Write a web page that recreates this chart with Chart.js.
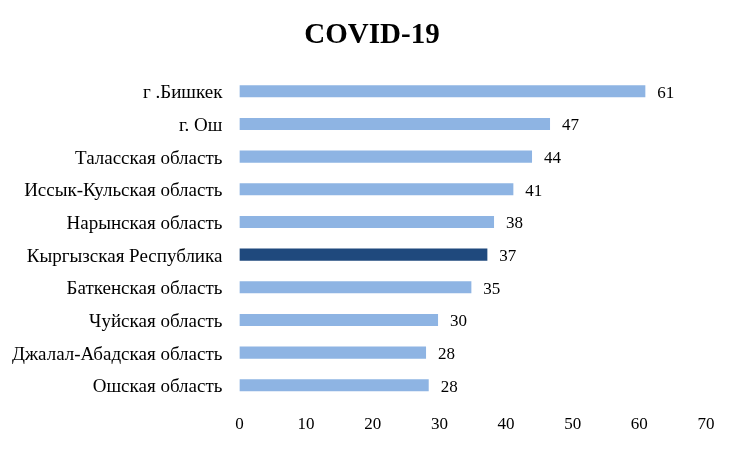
<!DOCTYPE html>
<html lang="ru">
  <head>
    <meta charset="UTF-8">
    <title>COVID-19</title>
    <script src="https://cdn.jsdelivr.net/npm/chart.js@4.4.0/dist/chart.umd.min.js"></script>
    <style>
      body { margin: 0; background: #fff; }
      #wrap { width: 740px; height: 474px; }
    </style>
  </head>
  <body>
    <div id="wrap"><canvas id="myChart"></canvas></div>
    <script>
      // regions, top to bottom
      const regions = [
        'г .Бишкек', 'г. Ош', 'Таласская область', 'Иссык-Кульская область',
        'Нарынская область', 'Кыргызская Республика', 'Баткенская область',
        'Чуйская область', 'Джалал-Абадская область', 'Ошская область'
      ];
      const values = [60.9, 46.6, 43.9, 41.1, 38.2, 37.2, 34.8, 29.8, 28.0, 28.4];
      const valueLabels = ['61', '47', '44', '41', '38', '37', '35', '30', '28', '28'];
      const xTicks = [0, 10, 20, 30, 40, 50, 60, 70];
      const chartTitle = 'COVID-19';

      const light = '#8EB4E3';
      const dark = '#1F497D';
      const barColors = regions.map(r => r === 'Кыргызская Республика' ? dark : light);
      const serif = "'Liberation Serif', 'Times New Roman', serif";

      // title centred on the whole canvas (the built-in one follows the layout padding)
      const pageTitle = {
        id: 'pageTitle',
        afterDraw(chart) {
          const ctx = chart.ctx;
          ctx.save();
          ctx.font = 'bold 29px ' + serif;
          ctx.fillStyle = '#000';
          ctx.textAlign = 'center';
          ctx.textBaseline = 'middle';
          ctx.fillText(chartTitle, chart.width / 2 + 2, 36);
          ctx.restore();
        }
      };

      // numbers at the end of each bar
      const endLabels = {
        id: 'endLabels',
        afterDatasetsDraw(chart) {
          const ctx = chart.ctx;
          const meta = chart.getDatasetMeta(0);
          ctx.save();
          ctx.font = '17px ' + serif;
          ctx.fillStyle = '#000';
          ctx.textAlign = 'left';
          ctx.textBaseline = 'middle';
          meta.data.forEach((bar, i) => {
            ctx.fillText(valueLabels[i], bar.x + 12, bar.y + 2);
          });
          ctx.restore();
        }
      };

      new Chart(document.getElementById('myChart'), {
        type: 'bar',
        data: {
          labels: regions,
          datasets: [{
            data: values,
            backgroundColor: barColors,
            barPercentage: 0.37,
            categoryPercentage: 1
          }]
        },
        options: {
          indexAxis: 'y',
          responsive: true,
          maintainAspectRatio: false,
          animation: false,
          layout: { padding: { top: 75, right: 34, bottom: 26, left: -5 } },
          plugins: {
            legend: { display: false },
            tooltip: { enabled: false },
            title: { display: false }
          },
          scales: {
            x: {
              min: 0,
              max: 70,
              afterBuildTicks(axis) { axis.ticks = xTicks.map(v => ({ value: v })); },
              grid: { display: false, drawTicks: false },
              border: { display: false },
              ticks: { color: '#000', padding: 13, font: { family: serif, size: 17 } }
            },
            y: {
              grid: { display: false, drawTicks: false },
              border: { display: false },
              ticks: { color: '#000', padding: 17, labelOffset: 2, font: { family: serif, size: 19 } }
            }
          }
        },
        plugins: [endLabels, pageTitle]
      });
    </script>
  </body>
</html>
